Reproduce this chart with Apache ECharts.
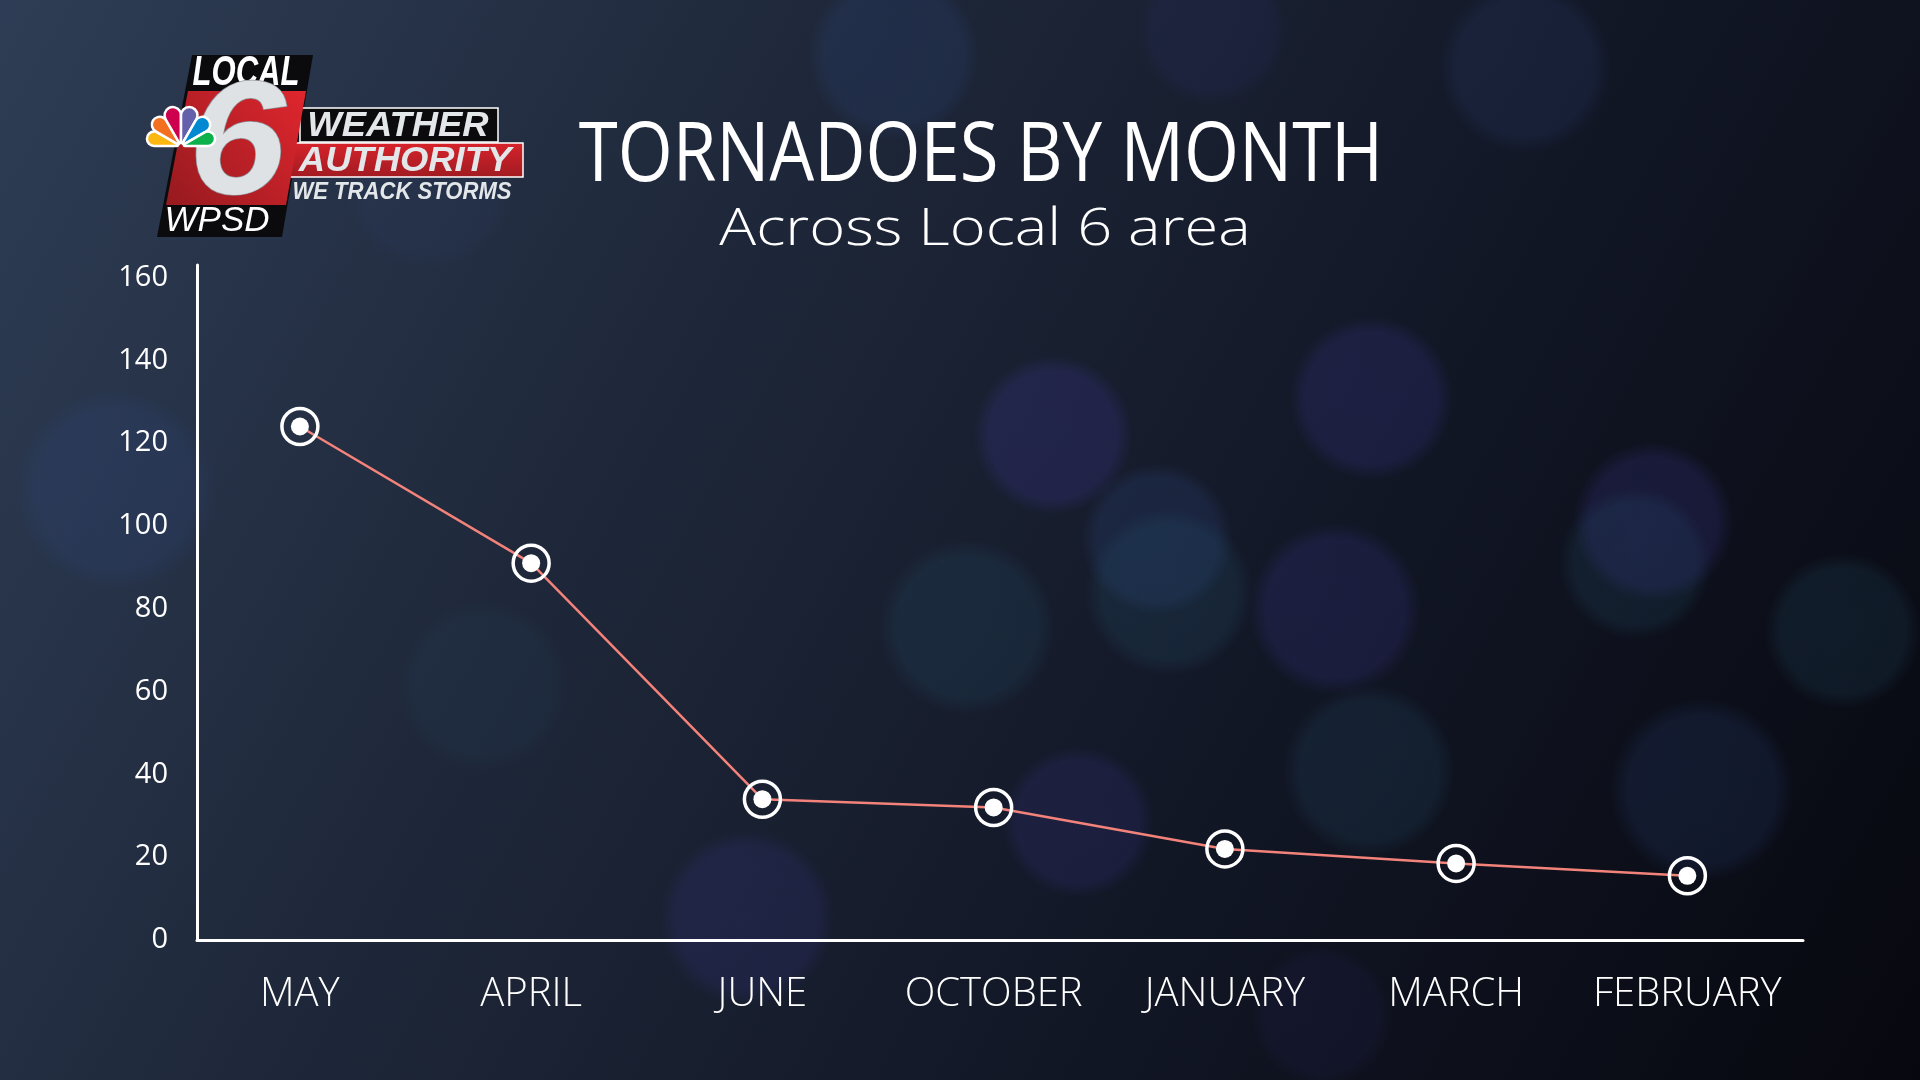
<!DOCTYPE html>
<html><head><meta charset="utf-8">
<script src="https://cdn.jsdelivr.net/npm/echarts@6/dist/echarts.min.js"></script>
<style>html,body{margin:0;padding:0;background:#151b2a;}#chart{width:1920px;height:1080px;}</style>
</head><body><div id="chart"></div>
<script>
// ---- data ----
const months = ['MAY', 'APRIL', 'JUNE', 'OCTOBER', 'JANUARY', 'MARCH', 'FEBRUARY'];
const tornadoes = [124, 91, 34, 32, 22, 18.5, 15.5];
const yTicks = [0, 20, 40, 60, 80, 100, 120, 140, 160];
const titleText = 'TORNADOES BY MONTH';
const subtitleText = 'Across Local 6 area';

const monthIdx = months.map((m, i) => i);
const points = months.map((m, i) => [i, tornadoes[i]]);

const SILVER = '#e4e7ea';

function bokeh(cx, cy, r, rgb, a) {
  return {type:'circle', z:-50, silent:true, shape:{cx, cy, r},
    style:{fill:{type:'radial',x:0.5,y:0.5,r:0.5,colorStops:[
      {offset:0,color:`rgba(${rgb},${a})`},{offset:0.8,color:`rgba(${rgb},${a*0.95})`},{offset:1,color:`rgba(${rgb},0)`}]}}};
}
const PUR='70,60,170', BLU='50,80,150', TEA='40,95,125';

const logo = [
  {type:'polygon', z:20, shape:{points:[[192,55],[313,55],[282,237],[157,237]]}, style:{fill:'#0b0b0d'}},
  {type:'polygon', z:21, shape:{points:[[188,91],[306,91],[286,205],[166,205]]},
   style:{fill:{type:'linear',x:1,y:0,x2:0,y2:1,colorStops:[{offset:0,color:'#e0262e'},{offset:1,color:'#951a1f'}]}}},
  {type:'text', z:22, x:246, y:73, scaleX:0.74, style:{text:'LOCAL', fontSize:42, fontWeight:'bold', fontStyle:'italic', fontFamily:'Liberation Sans', fill:'#ffffff', textAlign:'center', textVerticalAlign:'middle', verticalAlign:'middle'}},
  {type:'text', z:23, x:237, y:148, scaleX:1.08, style:{text:'6', fontSize:162, fontWeight:'bold', fontStyle:'italic', fontFamily:'Liberation Sans',
    fill:'#dfe2e5', stroke:'#8d9196', lineWidth:1.5,
    textAlign:'center', textVerticalAlign:'middle', verticalAlign:'middle', shadowBlur:6, shadowColor:'rgba(0,0,0,0.6)'}},
  {type:'text', z:22, x:217, y:221, style:{text:'WPSD', fontSize:35, fontStyle:'italic', fontFamily:'Liberation Sans', fill:'#ffffff', textAlign:'center', textVerticalAlign:'middle', verticalAlign:'middle'}},
  {type:'rect', z:20, shape:{x:300,y:108,width:198,height:34}, style:{fill:'#0b0b0d', stroke:'#ffffff', lineWidth:1.5}},
  {type:'text', z:22, x:398, y:126, scaleX:1.04, style:{text:'WEATHER', fontSize:35, fontWeight:'bold', fontStyle:'italic', fontFamily:'Liberation Sans', fill:SILVER, textAlign:'center', textVerticalAlign:'middle', verticalAlign:'middle'}},
  {type:'rect', z:20, shape:{x:290,y:143,width:233,height:34}, style:{fill:{type:'linear',x:0,y:0,x2:0,y2:1,colorStops:[{offset:0,color:'#d8232b'},{offset:1,color:'#a01b21'}]}, stroke:'#ffffff', lineWidth:1.5}},
  {type:'text', z:22, x:405, y:161, scaleX:1.04, style:{text:'AUTHORITY', fontSize:35, fontWeight:'bold', fontStyle:'italic', fontFamily:'Liberation Sans', fill:SILVER, textAlign:'center', textVerticalAlign:'middle', verticalAlign:'middle'}},
  {type:'text', z:22, x:402, y:193, scaleX:0.96, style:{text:'WE TRACK STORMS', fontSize:23, fontWeight:'bold', fontStyle:'italic', fontFamily:'Liberation Sans', fill:SILVER, textAlign:'center', textVerticalAlign:'middle', verticalAlign:'middle'}}
];
const featherColors = ['#fcb711','#f37021','#cc004c','#6460aa','#0089d0','#0db14b'];
const featherR = [35, 38, 40, 40, 38, 35];
featherColors.forEach((c, i) => {
  logo.push({type:'sector', z:24, shape:{cx:181, cy:146, r:featherR[i], r0:3, startAngle:Math.PI + i*Math.PI/6, endAngle:Math.PI + (i+1)*Math.PI/6, cornerRadius:9},
    style:{fill:c, stroke:'#ffffff', lineWidth:2.5}});
});

const deco = [
  {type:'rect', z:-100, silent:true, shape:{x:0,y:0,width:1920,height:1080},
   style:{fill:{type:'linear',x:0,y:0,x2:1,y2:1,colorStops:[
     {offset:0,color:'#2e3d55'},{offset:0.35,color:'#1e2739'},{offset:0.65,color:'#121726'},{offset:1,color:'#07080f'}]}}},
  bokeh(116,490,100,BLU,0.16), bokeh(429,184,85,BLU,0.08), bokeh(894,55,86,BLU,0.17),
  bokeh(1212,30,75,PUR,0.1), bokeh(1525,67,86,BLU,0.15),
  bokeh(1053,435,80,PUR,0.22), bokeh(1371,398,82,PUR,0.2), bokeh(1157,539,76,BLU,0.2),
  bokeh(1169,592,84,TEA,0.18), bokeh(1335,609,86,PUR,0.19), bokeh(967,627,88,TEA,0.17),
  bokeh(1653,522,80,PUR,0.2), bokeh(1635,563,76,TEA,0.17), bokeh(1843,631,78,TEA,0.17),
  bokeh(1369,771,86,TEA,0.17), bokeh(1702,790,92,BLU,0.17), bokeh(1078,822,76,PUR,0.17),
  bokeh(747,918,88,PUR,0.17), bokeh(484,686,86,TEA,0.08), bokeh(1322,1016,70,PUR,0.08)
];

const titles = [
  {type:'text', z:10, x:981, y:158, scaleX:0.862, style:{text:titleText, fontSize:82, fontFamily:'Open Sans', fill:'#ffffff', textAlign:'center', textVerticalAlign:'middle', verticalAlign:'middle'}},
  {type:'text', z:10, x:985, y:230, scaleX:1.18, style:{text:subtitleText, fontSize:52, fontWeight:300, fontFamily:'Open Sans', fill:'#ffffff', textAlign:'center', textVerticalAlign:'middle', verticalAlign:'middle'}}
];

const chart = echarts.init(document.getElementById('chart'), null, {renderer:'canvas'});
chart.setOption({
  animation:false,
  backgroundColor:'#151b2a',
  graphic: deco.concat(logo, titles),
  grid:{left:197, right:117, top:265, bottom:140, containLabel:false},
  xAxis:{type:'value', min:-0.445, max:6.5,
    axisLine:{show:true, onZero:false, lineStyle:{color:'#ffffff', width:3}},
    axisTick:{show:false}, splitLine:{show:false},
    axisLabel:{customValues:monthIdx, formatter:(v)=>months[Math.round(v)] || '', color:'#ffffff', fontSize:40, fontWeight:300, fontFamily:'Open Sans', margin:35}},
  yAxis:{type:'value', min:0, max:163,
    axisLine:{show:true, onZero:false, lineStyle:{color:'#ffffff', width:3}},
    axisTick:{show:false}, splitLine:{show:false},
    axisLabel:{customValues:yTicks, color:'#ffffff', fontSize:29, fontFamily:'Open Sans', margin:29}},
  series:[
    {type:'line', data:points, z:3, symbol:'circle', symbolSize:36,
      lineStyle:{color:'#f3837a', width:2.5},
      itemStyle:{color:'rgba(0,0,0,0)', borderColor:'#ffffff', borderWidth:3.5},
      emphasis:{disabled:true}},
    {type:'scatter', data:points, z:4, symbol:'circle', symbolSize:18,
      itemStyle:{color:'#ffffff', opacity:1}, emphasis:{disabled:true}}
  ]
});
</script></body></html>
